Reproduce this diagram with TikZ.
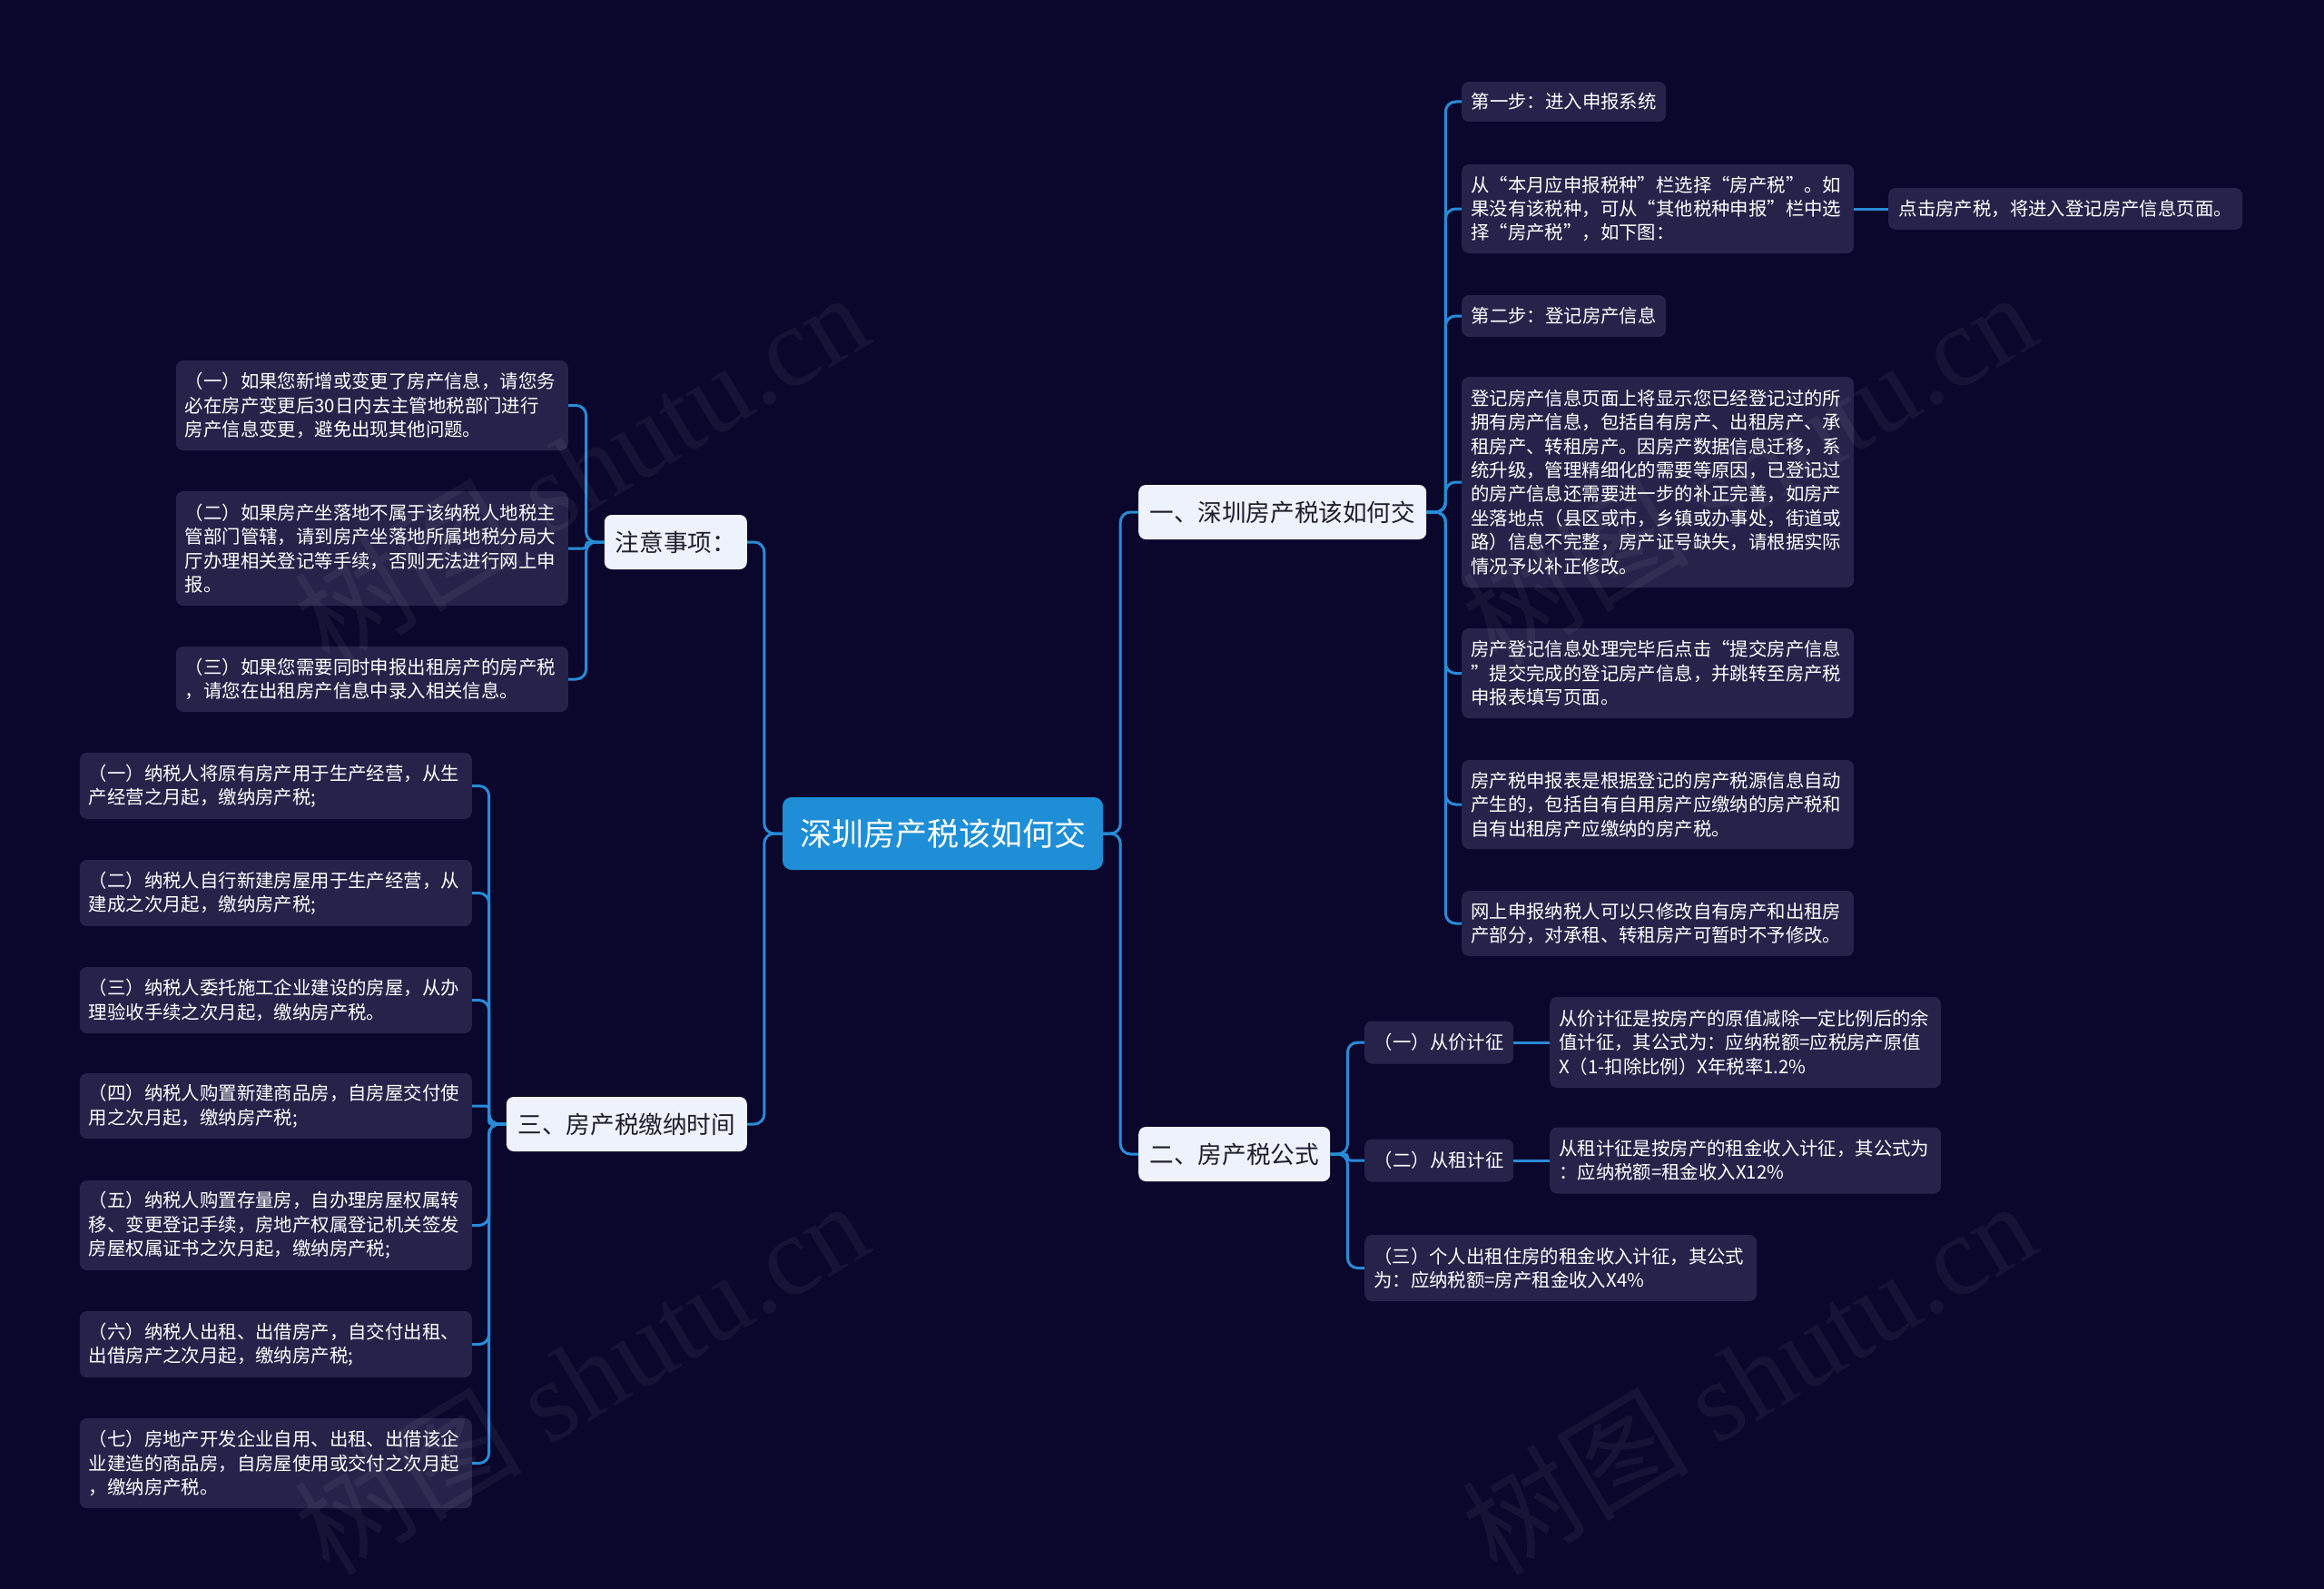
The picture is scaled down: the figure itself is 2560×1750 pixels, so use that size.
\documentclass[tikz,border=0pt]{standalone}
\usepackage{fontspec}
\setmainfont{Noto Sans CJK SC}
\newfontfamily\cjk{Noto Sans CJK SC}
\newfontfamily\wmfont{Liberation Serif}
\definecolor{bgc}{RGB}{10,6,44}
\definecolor{leaffill}{RGB}{38,34,74}
\definecolor{mainfill}{RGB}{238,242,252}
\definecolor{maintext}{RGB}{30,30,44}
\definecolor{rootfill}{RGB}{30,142,214}
\definecolor{linec}{RGB}{40,140,215}
\tikzset{
  leaf/.style={fill=leaffill, text=white, rounded corners=8pt, inner xsep=10pt, inner ysep=0pt,
    font=\fontsize{20.4}{26.4}\selectfont, align=left},
  mleaf/.style={leaf, text width=412pt},
  mainbox/.style={fill=mainfill, text=maintext, rounded corners=8pt, inner xsep=10pt, inner ysep=0pt,
    minimum height=60pt, font=\fontsize{26.6}{32}\selectfont},
  rootbox/.style={fill=rootfill, text=white, rounded corners=10pt, minimum width=353pt,
    minimum height=80pt, inner sep=0pt, font=\fontsize{35}{40}\selectfont},
  conn/.style={draw=linec, line width=3pt, rounded corners=11pt},
  wm/.style={text=white, text opacity=0.055, font=\fontsize{125}{130}\selectfont, inner sep=0pt}
}
\begin{document}
\begin{tikzpicture}[x=1pt,y=-1pt]
\fill[bgc] (0,0) rectangle (2560,1750);
\useasboundingbox (0,0) rectangle (2560,1750);

% root
\node[rootbox] (root) at (1038.5,918) {深圳房产税该如何交};

% branch one
\node[mainbox, anchor=west, minimum width=317pt] (a) at (1254,564) {一、深圳房产税该如何交};
\node[leaf, anchor=west, minimum width=225pt, minimum height=44pt] (a1) at (1610,112) {第一步：进入申报系统};
\node[mleaf, anchor=west, minimum height=98pt] (a2) at (1610,230) {从“本月应申报税种”栏选择“房产税”。如\\果没有该税种，可从“其他税种申报”栏中选\\择“房产税”，如下图：};
\node[leaf, anchor=west, minimum width=390pt, minimum height=46pt] (a2x) at (2080,230) {点击房产税，将进入登记房产信息页面。};
\node[leaf, anchor=west, minimum width=225pt, minimum height=46pt] (a3) at (1610,348) {第二步：登记房产信息};
\node[mleaf, anchor=west, minimum height=232pt] (a4) at (1610,531) {登记房产信息页面上将显示您已经登记过的所\\拥有房产信息，包括自有房产、出租房产、承\\租房产、转租房产。因房产数据信息迁移，系\\统升级，管理精细化的需要等原因，已登记过\\的房产信息还需要进一步的补正完善，如房产\\坐落地点（县区或市，乡镇或办事处，街道或\\路）信息不完整，房产证号缺失，请根据实际\\情况予以补正修改。};
\node[mleaf, anchor=west, minimum height=99pt] (a5) at (1610,741.5) {房产登记信息处理完毕后点击“提交房产信息\\”提交完成的登记房产信息，并跳转至房产税\\申报表填写页面。};
\node[mleaf, anchor=west, minimum height=98pt] (a6) at (1610,886) {房产税申报表是根据登记的房产税源信息自动\\产生的，包括自有自用房产应缴纳的房产税和\\自有出租房产应缴纳的房产税。};
\node[mleaf, anchor=west, minimum height=72pt] (a7) at (1610,1017) {网上申报纳税人可以只修改自有房产和出租房\\产部分，对承租、转租房产可暂时不予修改。};

% branch two
\node[mainbox, anchor=west, minimum width=211pt] (b) at (1254,1271) {二、房产税公式};
\node[leaf, anchor=west, minimum width=164pt, minimum height=47pt] (b1) at (1503,1148) {（一）从价计征};
\node[mleaf, anchor=west, text width=411pt, minimum height=100pt] (b1x) at (1707,1148) {从价计征是按房产的原值减除一定比例后的余\\值计征，其公式为：应纳税额=应税房产原值\\X（1-扣除比例）X年税率1.2\%};
\node[leaf, anchor=west, minimum width=164pt, minimum height=47pt] (b2) at (1503,1278) {（二）从租计征};
\node[mleaf, anchor=west, text width=411pt, minimum height=73pt] (b2x) at (1707,1278) {从租计征是按房产的租金收入计征，其公式为\\：应纳税额=租金收入X12\%};
\node[mleaf, anchor=west, minimum height=73pt] (b3) at (1503,1396.5) {（三）个人出租住房的租金收入计征，其公式\\为：应纳税额=房产租金收入X4\%};

% branch notes
\node[mainbox, anchor=east, minimum width=157pt] (c) at (823,597) {注意事项：};
\node[mleaf, anchor=east, minimum height=99pt] (c1) at (626,446.5) {（一）如果您新增或变更了房产信息，请您务\\必在房产变更后30日内去主管地税部门进行\\房产信息变更，避免出现其他问题。};
\node[mleaf, anchor=east, minimum height=126pt] (c2) at (626,604) {（二）如果房产坐落地不属于该纳税人地税主\\管部门管辖，请到房产坐落地所属地税分局大\\厅办理相关登记等手续，否则无法进行网上申\\报。};
\node[mleaf, anchor=east, minimum height=72pt] (c3) at (626,748) {（三）如果您需要同时申报出租房产的房产税\\，请您在出租房产信息中录入相关信息。};

% branch three
\node[mainbox, anchor=east, minimum width=265pt] (d) at (823,1238) {三、房产税缴纳时间};
\node[mleaf, anchor=east, minimum height=73pt] (d1) at (520,865.5) {（一）纳税人将原有房产用于生产经营，从生\\产经营之月起，缴纳房产税;};
\node[mleaf, anchor=east, minimum height=73pt] (d2) at (520,983.5) {（二）纳税人自行新建房屋用于生产经营，从\\建成之次月起，缴纳房产税;};
\node[mleaf, anchor=east, minimum height=73pt] (d3) at (520,1101.5) {（三）纳税人委托施工企业建设的房屋，从办\\理验收手续之次月起，缴纳房产税。};
\node[mleaf, anchor=east, minimum height=72pt] (d4) at (520,1218) {（四）纳税人购置新建商品房，自房屋交付使\\用之次月起，缴纳房产税;};
\node[mleaf, anchor=east, minimum height=99pt] (d5) at (520,1349.5) {（五）纳税人购置存量房，自办理房屋权属转\\移、变更登记手续，房地产权属登记机关签发\\房屋权属证书之次月起，缴纳房产税;};
\node[mleaf, anchor=east, minimum height=73pt] (d6) at (520,1480.5) {（六）纳税人出租、出借房产，自交付出租、\\出借房产之次月起，缴纳房产税;};
\node[mleaf, anchor=east, minimum height=99pt] (d7) at (520,1611.5) {（七）房地产开发企业自用、出租、出借该企\\业建造的商品房，自房屋使用或交付之次月起\\，缴纳房产税。};

% connectors
\draw[conn] (root.east) -- ++(19,0) |- (a.west);
\draw[conn] (root.east) -- ++(19,0) |- (b.west);
\draw[conn] (root.west) -- ++(-20,0) |- (c.east);
\draw[conn] (root.west) -- ++(-20,0) |- (d.east);

\foreach \n in {a1,a2,a3,a4,a5,a6,a7}{\draw[conn] (a.east) -- ++(21,0) |- (\n.west);}
\draw[conn] (a2.east) -- (a2x.west);

\draw[conn] (b.east) -- ++(19,0) |- (b1.west);
\draw[conn, rounded corners=3pt] (b.east) -- ++(19,0) |- (b2.west);
\draw[conn] (b.east) -- ++(19,0) |- (b3.west);
\draw[conn] (b1.east) -- (b1x.west);
\draw[conn] (b2.east) -- (b2x.west);

\draw[conn] (c.west) -- ++(-20,0) |- (c1.east);
\draw[conn, rounded corners=3pt] (c.west) -- ++(-20,0) |- (c2.east);
\draw[conn] (c.west) -- ++(-20,0) |- (c3.east);

\foreach \n in {d1,d2,d3,d5,d6,d7}{\draw[conn] (d.west) -- ++(-19,0) |- (\n.east);}
\draw[conn, rounded corners=3pt] (d.west) -- ++(-19,0) |- (d4.east);

% watermarks
\node[wm, rotate=31] (w1) at (640,515) {\cjk 树图\wmfont{} shutu.cn};
\node[wm, rotate=31] (w2) at (1926,515) {\cjk 树图\wmfont{} shutu.cn};
\node[wm, rotate=31] (w3) at (640,1516) {\cjk 树图\wmfont{} shutu.cn};
\node[wm, rotate=31] (w4) at (1926,1516) {\cjk 树图\wmfont{} shutu.cn};
\end{tikzpicture}
\end{document}
